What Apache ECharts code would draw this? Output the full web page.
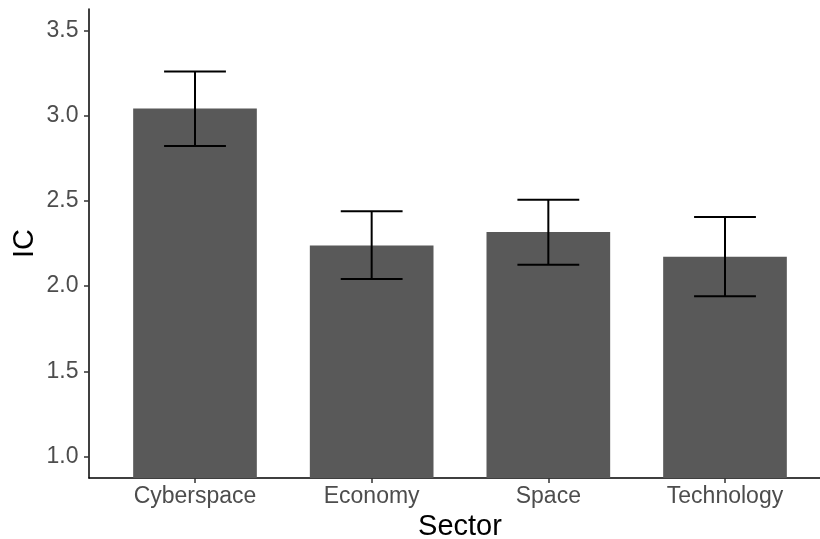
<!DOCTYPE html>
<html>
<head>
<meta charset="utf-8">
<script src="https://cdn.jsdelivr.net/npm/echarts@6/dist/echarts.min.js"></script>
<style>
  html, body { margin: 0; padding: 0; background: #fff; }
  #chart { width: 820px; height: 539px; }
</style>
</head>
<body>
<div id="chart"></div>
<script>
// categories and values
const sectors = ['Cyberspace', 'Economy', 'Space', 'Technology'];
const icMean = [3.041, 2.239, 2.317, 2.172];
const icLow = [2.822, 2.042, 2.126, 1.941];
const icHigh = [3.258, 2.439, 2.507, 2.406];
const yTicks = [1.0, 1.5, 2.0, 2.5, 3.0, 3.5];

const FONT = '"Liberation Sans", Arial, sans-serif';
const GRID_LEFT = 89, GRID_RIGHT = -11;
const X_MIN = 0.4, X_MAX = 4.6;
const bandPx = (820 - GRID_LEFT - GRID_RIGHT) / (X_MAX - X_MIN);

const barData = sectors.map((s, i) => [i + 1, icMean[i]]);
const errData = sectors.map((s, i) => [i + 1, icLow[i], icHigh[i]]);

const option = {
    animation: false,
    grid: {
        left: GRID_LEFT,
        right: GRID_RIGHT,
        top: 9,
        bottom: 61,
        outerBoundsMode: 'none',
    },
    xAxis: {
        type: 'value',
        min: X_MIN,
        max: X_MAX,
        name: 'Sector',
        nameLocation: 'middle',
        nameGap: 33,
        nameTextStyle: { color: '#000', fontSize: 29, fontFamily: FONT },
        splitLine: { show: false },
        axisLine: { lineStyle: { color: '#000', width: 1.5 } },
        axisTick: {
            customValues: [1, 2, 3, 4],
            length: 5,
            lineStyle: { color: '#333', width: 1.5 },
        },
        axisLabel: {
            customValues: [1, 2, 3, 4],
            formatter: v => sectors[Math.round(v) - 1],
            color: '#4D4D4D',
            fontSize: 23,
            fontFamily: FONT,
            margin: 7,
        },
    },
    yAxis: {
        type: 'value',
        min: 0.875,
        max: 3.625,
        name: 'IC',
        nameLocation: 'middle',
        nameGap: 50,
        nameMoveOverlap: false,
        nameTextStyle: { color: '#000', fontSize: 29, fontFamily: FONT },
        splitLine: { show: false },
        axisLine: { show: true, lineStyle: { color: '#000', width: 1.5 } },
        axisTick: {
            show: true,
            customValues: yTicks,
            length: 5,
            lineStyle: { color: '#333', width: 1.5 },
        },
        axisLabel: {
            customValues: yTicks,
            formatter: v => v.toFixed(1),
            color: '#4D4D4D',
            fontSize: 23,
            fontFamily: FONT,
            margin: 10.5,
        },
    },
    series: [
        {
            type: 'bar',
            data: barData,
            barWidth: bandPx * 0.7,
            itemStyle: { color: '#595959' },
        },
        {
            type: 'custom',
            data: errData,
            z: 10,
            renderItem: function (params, api) {
                const x = api.value(0);
                const lo = api.coord([x, api.value(1)]);
                const hi = api.coord([x, api.value(2)]);
                const half = api.size([0.35, 0])[0] / 2;
                const style = { stroke: '#000', lineWidth: 2 };
                return {
                    type: 'group',
                    children: [
                        { type: 'line', shape: { x1: lo[0], y1: lo[1], x2: hi[0], y2: hi[1] }, style: style },
                        { type: 'line', shape: { x1: hi[0] - half, y1: hi[1], x2: hi[0] + half, y2: hi[1] }, style: style },
                        { type: 'line', shape: { x1: lo[0] - half, y1: lo[1], x2: lo[0] + half, y2: lo[1] }, style: style },
                    ],
                };
            },
        },
    ],
};

const chart = echarts.init(document.getElementById('chart'));
chart.setOption(option);
</script>
</body>
</html>
